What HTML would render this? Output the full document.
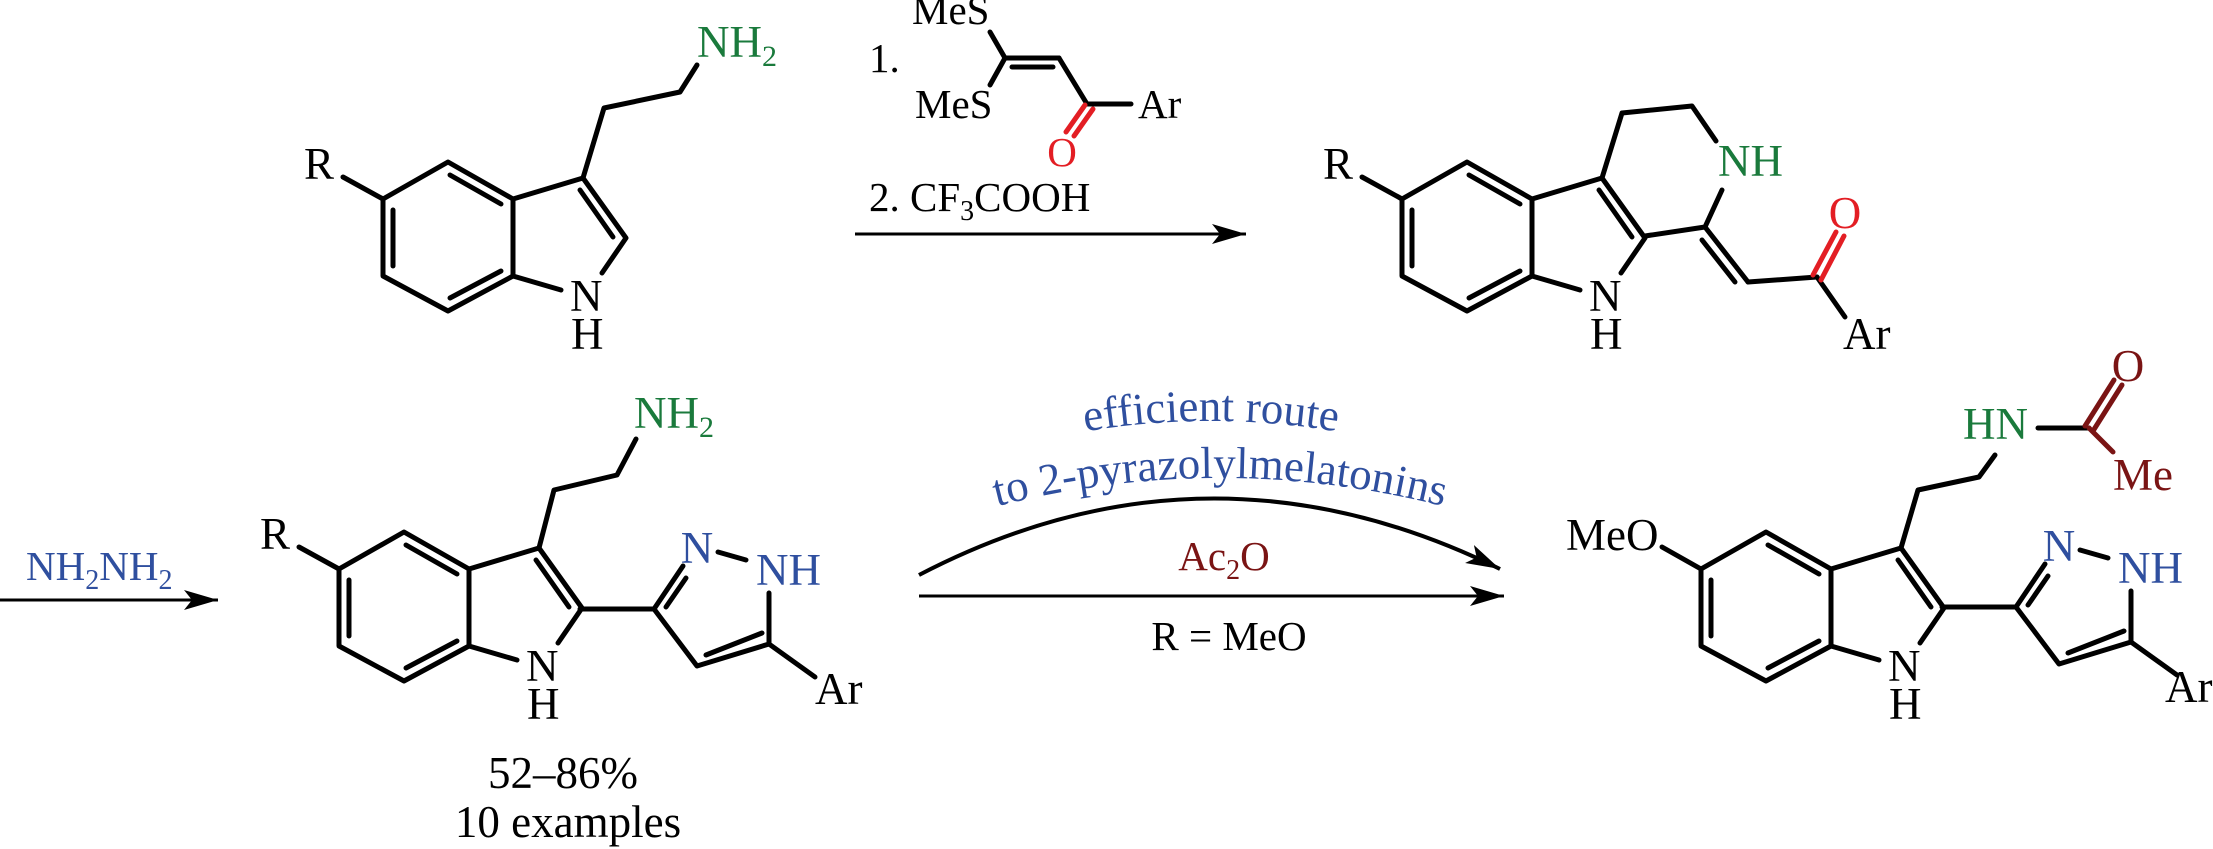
<!DOCTYPE html>
<html><head><meta charset="utf-8"><style>
html,body{margin:0;padding:0;background:#fff;}
svg{display:block;}
text{font-family:"Liberation Serif",serif;}
</style></head><body>
<svg width="2213" height="849" viewBox="0 0 2213 849" xmlns="http://www.w3.org/2000/svg">
<defs>
<marker id="ah" markerUnits="userSpaceOnUse" markerWidth="40" markerHeight="24" refX="34" refY="10" orient="auto">
<path d="M0,0 L34,10 L0,20 L8,10 Z" fill="#000"/>
</marker>
<g id="indole" stroke="#000" stroke-width="5" fill="none" stroke-linecap="round" stroke-linejoin="round">
<polyline points="383,199 448,162 513,199 513,276 448,311 383,276 383,199"/>
<line x1="393" y1="210" x2="393" y2="266"/>
<line x1="450" y1="175" x2="501" y2="204"/>
<line x1="450" y1="298" x2="501" y2="271"/>
<polyline points="513,199 583,178 626,238 602,273"/>
<line x1="580" y1="190" x2="613" y2="237"/>
<line x1="513" y1="276" x2="561" y2="290"/>
</g>
<g id="pyr" stroke="#000" stroke-width="5" fill="none" stroke-linecap="round" stroke-linejoin="round">
<line x1="580" y1="609" x2="654" y2="609"/>
<line x1="654" y1="609" x2="683" y2="566"/>
<line x1="666" y1="607" x2="686" y2="578"/>
<line x1="718" y1="552" x2="746" y2="560"/>
<polyline points="769,593 769,644 697,666 654,609"/>
<line x1="762" y1="633" x2="706" y2="655"/>
<line x1="769" y1="644" x2="815" y2="677"/>
</g>
</defs>

<!-- Structure 1 -->
<use href="#indole"/>
<g stroke="#000" stroke-width="5" fill="none" stroke-linecap="round" stroke-linejoin="round">
<line x1="343" y1="177" x2="383" y2="199"/>
<polyline points="583,178 604,108 680,92 697,65"/>
</g>
<g font-size="45" fill="#000">
<text x="304" y="179">R</text>
<text x="570" y="311">N</text>
<text x="571" y="349">H</text>
</g>
<text x="697" y="57" font-size="45" fill="#1a7a3c">NH<tspan font-size="30" dy="9">2</tspan></text>

<!-- Reagent -->
<g stroke="#000" stroke-width="5" fill="none" stroke-linecap="round">
<line x1="990" y1="32" x2="1005" y2="58"/>
<line x1="1005" y1="58" x2="1059" y2="58"/>
<line x1="1012" y1="67" x2="1053" y2="67"/>
<line x1="1005" y1="58" x2="990" y2="85"/>
<line x1="1059" y1="58" x2="1087" y2="104"/>
<line x1="1087" y1="104" x2="1131" y2="104"/>
</g>
<g stroke="#e31e24" stroke-width="5" stroke-linecap="round">
<line x1="1085" y1="105" x2="1066" y2="132"/>
<line x1="1093" y1="109" x2="1074" y2="136"/>
</g>
<g font-size="41" fill="#000">
<text x="912" y="24">MeS</text>
<text x="869" y="72">1.</text>
<text x="915" y="118">MeS</text>
<text x="1138" y="118">Ar</text>
<text x="869" y="211">2. CF<tspan font-size="28" dy="9">3</tspan><tspan dy="-9">COOH</tspan></text>
</g>
<text x="1062" y="166" font-size="41" fill="#e31e24" text-anchor="middle">O</text>
<line x1="855" y1="234" x2="1246" y2="234" stroke="#000" stroke-width="3" marker-end="url(#ah)"/>

<!-- Structure 2 -->
<use href="#indole" transform="translate(1019,0)"/>
<g stroke="#000" stroke-width="5" fill="none" stroke-linecap="round" stroke-linejoin="round">
<line x1="1362" y1="177" x2="1402" y2="199"/>
<polyline points="1602,178 1622,113 1692,106 1716,141"/>
<polyline points="1722,190 1705,227 1645,236"/>
<line x1="1705" y1="227" x2="1748" y2="282"/>
<line x1="1702" y1="240" x2="1735" y2="282"/>
<line x1="1748" y1="282" x2="1817" y2="277"/>
<line x1="1817" y1="277" x2="1845" y2="317"/>
</g>
<g stroke="#e31e24" stroke-width="5" stroke-linecap="round">
<line x1="1813" y1="275" x2="1836" y2="232"/>
<line x1="1821" y1="280" x2="1844" y2="236"/>
</g>
<g font-size="45" fill="#000">
<text x="1323" y="179">R</text>
<text x="1589" y="311">N</text>
<text x="1590" y="349">H</text>
<text x="1843" y="349">Ar</text>
</g>
<text x="1718" y="176" font-size="45" fill="#1a7a3c">NH</text>
<text x="1845" y="228" font-size="45" fill="#e31e24" text-anchor="middle">O</text>

<!-- Left arrow -->
<line x1="0" y1="600" x2="218" y2="600" stroke="#000" stroke-width="3" marker-end="url(#ah)"/>
<text x="26" y="580" font-size="41" fill="#2f4f9f">NH<tspan font-size="28" dy="9">2</tspan><tspan dy="-9">NH</tspan><tspan font-size="28" dy="9">2</tspan></text>

<!-- Structure 3 -->
<use href="#indole" transform="translate(-44,370)"/>
<use href="#pyr"/>
<g stroke="#000" stroke-width="5" fill="none" stroke-linecap="round" stroke-linejoin="round">
<line x1="299" y1="547" x2="339" y2="569"/>
<polyline points="539,548 554,490 617,475 636,439"/>
</g>
<g font-size="45" fill="#000">
<text x="260" y="549">R</text>
<text x="526" y="681">N</text>
<text x="527" y="719">H</text>
<text x="815" y="704">Ar</text>
<text x="563" y="788" text-anchor="middle">52–86%</text>
<text x="568" y="837" text-anchor="middle">10 examples</text>
</g>
<text x="634" y="428" font-size="45" fill="#1a7a3c">NH<tspan font-size="30" dy="9">2</tspan></text>
<g font-size="45" fill="#2f4f9f">
<text x="697" y="563" text-anchor="middle">N</text>
<text x="756" y="585">NH</text>
</g>

<!-- Bottom arrows -->
<path d="M919,575 Q1207,425 1500,569" stroke="#000" stroke-width="4" fill="none" marker-end="url(#ah)"/>
<line x1="919" y1="596" x2="1504" y2="596" stroke="#000" stroke-width="3" marker-end="url(#ah)"/>
<path id="t1" d="M980,456 Q1211,386 1442,456" fill="none"/>
<path id="t2" d="M900,536 Q1220,420 1540,536" fill="none"/>
<text font-size="45" fill="#2f4f9f" text-anchor="middle"><textPath href="#t1" startOffset="50%">efficient route</textPath></text>
<text font-size="45" fill="#2f4f9f" text-anchor="middle"><textPath href="#t2" startOffset="50%">to 2-pyrazolylmelatonins</textPath></text>
<text x="1224" y="570" font-size="41" fill="#7a1414" text-anchor="middle">Ac<tspan font-size="28" dy="9">2</tspan><tspan dy="-9">O</tspan></text>
<text x="1229" y="650" font-size="41" fill="#000" text-anchor="middle">R = MeO</text>

<!-- Structure 4 -->
<use href="#indole" transform="translate(1318,370)"/>
<use href="#pyr" transform="translate(1362,-2)"/>
<g stroke="#000" stroke-width="5" fill="none" stroke-linecap="round" stroke-linejoin="round">
<line x1="1662" y1="547" x2="1701" y2="569"/>
<polyline points="1901,548 1918,490 1979,477 1995,455"/>
<line x1="2038" y1="428" x2="2089" y2="428"/>
</g>
<g stroke="#7a1414" stroke-width="5" stroke-linecap="round">
<line x1="2085" y1="426" x2="2114" y2="380"/>
<line x1="2093" y1="431" x2="2122" y2="385"/>
<line x1="2089" y1="428" x2="2113" y2="452"/>
</g>
<g font-size="45" fill="#000">
<text x="1566" y="550">MeO</text>
<text x="1888" y="681">N</text>
<text x="1889" y="719">H</text>
<text x="2165" y="702">Ar</text>
</g>
<text x="1963" y="439" font-size="45" fill="#1a7a3c">HN</text>
<text x="2128" y="381" font-size="45" fill="#7a1414" text-anchor="middle">O</text>
<text x="2113" y="490" font-size="45" fill="#7a1414">Me</text>
<g font-size="45" fill="#2f4f9f">
<text x="2059" y="561" text-anchor="middle">N</text>
<text x="2118" y="583">NH</text>
</g>
</svg>
</body></html>
